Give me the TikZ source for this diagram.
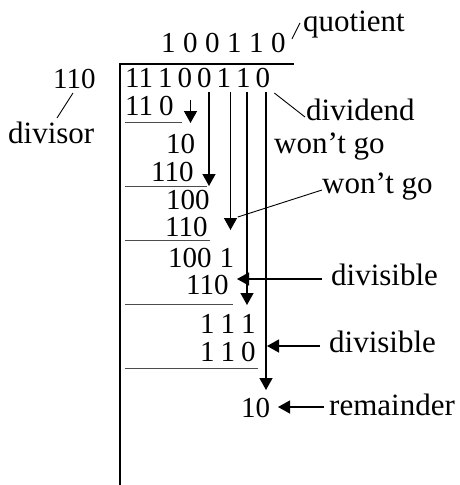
\documentclass[tikz,border=0pt]{standalone}
\usepackage{fontspec}
\setmainfont{Liberation Serif}
\usetikzlibrary{arrows.meta,calc}

\newcommand{\dgap}[1][6pt]{\kern#1}

\tikzset{
  num/.style={inner sep=0pt,anchor=base west,font=\fontsize{29}{29}\selectfont},
  lbl/.style={inner sep=0pt,anchor=base west,font=\fontsize{31}{31}\selectfont},
  bar/.style={line width=1.8pt},
  rule/.style={line width=0.9pt,black!70},
  drop/.style={line width=1.3pt,-{Triangle[length=12pt,width=13pt]}},
  leader/.style={line width=0.9pt},
}

\begin{document}
\begin{tikzpicture}[x=1pt,y=-1pt]
    \useasboundingbox (0,0) rectangle (459,485);
    % division bracket
    \coordinate (brbot) at (120,485);
    \coordinate (brcorner) at (120,64);
    \coordinate (brend) at (294,64);
    \draw[bar] (brbot) -- (brcorner) -- (brend);
    % quotient, divisor, dividend
    \node[num] (qnum) at (161,52) {1\dgap[7.5pt]0\dgap[7.5pt]0\dgap[7.5pt]1\dgap[7.5pt]1\dgap[7.5pt]0};
    \node[num] (dsr) at (53,88) {110};
    \node[num] (dvd) at (125,87) {11\dgap[5pt]1\dgap[5pt]0\dgap[5pt]0\dgap[5pt]1\dgap[5pt]1\dgap[5pt]0};
    % partial rows
    \node[num] (r1) at (125,115) {11\dgap 0};
    \node[num] (r2) at (166,153) {10};
    \node[num] (r3) at (151,181) {110};
    \node[num] (r4) at (166,209.5) {100};
    \node[num] (r5) at (165,236) {110};
    \node[num] (r6) at (168,267) {100\dgap[8pt]1};
    \node[num] (r7) at (186,294) {110};
    \node[num] (r8) at (200,333) {1\dgap 1\dgap 1};
    \node[num] (r9) at (200,361) {1\dgap 1\dgap 0};
    \node[num] (rem) at (241,417) {10};
    % subtraction rules
    \foreach \n/\y/\xe in {1/122/182,2/186/207,3/240/210,4/304/233,5/368/258}{
      \coordinate (ul\n) at (125,\y);
      \coordinate (ur\n) at (\xe,\y);
      \draw[rule] (ul\n) -- (ur\n);
    }
    % bring-down arrows
    \foreach \n/\x/\ya/\yb in {a/190.5/100/123,b/209/92/186,c/230.5/92/230,d/247/92/305,e/266/92/390}{
      \coordinate (top\n) at (\x,\ya);
      \coordinate (tip\n) at (\x,\yb);
      \draw[drop] (top\n) -- (tip\n);
    }
    % labels
    \node[lbl] (quo) at (303,31) {quotient};
    \node[lbl] (dvs) at (8,143) {divisor};
    \node[lbl] (dvl) at (306,120) {dividend};
    \node[lbl] (wg1) at (274,153) {won’t go};
    \node[lbl] (wg2) at (322,193) {won’t go};
    \node[lbl] (dv1) at (331,285) {divisible};
    \node[lbl] (dv2) at (329,352) {divisible};
    \node[lbl] (rmd) at (329,415) {remainder};
    % leaders
    \draw[leader] ($(qnum.base east)+(6,-13)$) -- ($(quo.base west)+(-3,-8)$);
    \draw[leader] ($(dsr.base west)+(20,5)$) -- ($(dvs.base west)+(49,-25)$);
    \draw[leader] ($(dvd.base east)+(4,6)$) -- ($(dvl.base west)+(-1,-3)$);
    \draw[leader] ($(r5.base east)+(30,-19)$) -- ($(wg2.base west)+(0,-3)$);
    % pointers
    \coordinate (hA) at (237,279);
    \coordinate (hB) at (267,346);
    \coordinate (hC) at (278,407);
    \draw[drop,shorten <=9pt] (hA -| dv1.west) -- (hA);
    \draw[drop,shorten <=9pt] (hB -| dv2.west) -- (hB);
    \draw[drop,shorten <=5pt] (hC -| rmd.west) -- (hC);
\end{tikzpicture}
\end{document}
